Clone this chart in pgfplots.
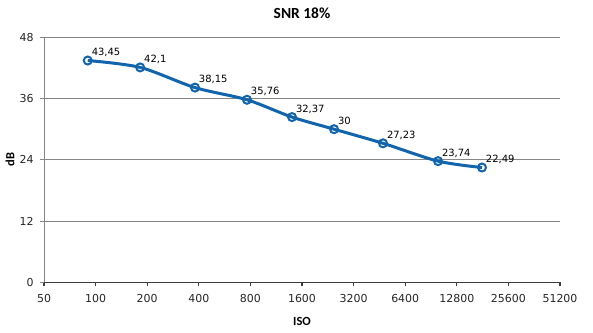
\documentclass[border=0pt]{standalone}
\usepackage{pgfplots}
\pgfplotsset{compat=1.18}
\usepackage{fontspec}
\setmainfont{DejaVu Sans}
\newfontfamily\lblfont{Carlito}
\definecolor{ser}{RGB}{18,100,172}
\definecolor{gridc}{RGB}{134,134,134}
\definecolor{axc}{RGB}{60,60,60}
\begin{document}
\begin{tikzpicture}
\useasboundingbox (-44bp,-50.7bp) rectangle (549bp,282.3bp);
\begin{axis}[
 at={(0,0)}, anchor=south west,
 scale only axis, width=516bp, height=245bp,
 xmode=log, log basis x=2, xmin=50, xmax=51200,
 ymin=0, ymax=48, ytick={0,12,24,36,48},
 xtick={50,100,200,400,800,1600,3200,6400,12800,25600,51200},
 xticklabels={50,100,200,400,800,1600,3200,6400,12800,25600,51200},
 xminorticks=false,
 ymajorgrids, grid style={gridc, line width=0.8bp},
 axis x line*=bottom, axis y line*=left,
 x axis line style={axc, line width=1.2bp},
 y axis line style={gridc, line width=0.8bp},
 tick align=outside, major tick length=4bp,
 xtick style={axc, line width=1.2bp},
 ytick style={gridc, line width=0.8bp},
 /pgf/number format/assume math mode=true,
 ticklabel style={font=\fontsize{11}{13}\selectfont, text=black!85},
 xticklabel style={yshift=-5bp},
 yticklabel style={xshift=-3bp},
 title={SNR 18\%},
 title style={font=\lblfont\fontsize{15.5}{17}\selectfont\bfseries, at={(0.5,1)}, anchor=center, yshift=18.5bp},
 xlabel={ISO},
 xlabel style={font=\lblfont\fontsize{12.5}{15}\selectfont\bfseries, at={(0.5,0)}, anchor=center, yshift=-39bp},
 ylabel={dB},
 ylabel style={font=\lblfont\fontsize{12.5}{15}\selectfont\bfseries, at={(0,0.5)}, anchor=center, yshift=34bp},
]
\addplot[ser, line width=3bp, smooth, tension=0.5,
  mark=o, mark size=4bp, mark options={fill=white, line width=2bp, solid},
  nodes near coords, point meta=explicit symbolic,
  nodes near coords style={font=\fontsize{10}{12}\selectfont, text=black, anchor=base west, inner sep=0pt, xshift=3bp, yshift=5bp}]
 table[meta=lab] {
x y lab
90 43.45 43,45
182 42.1 42,1
380 38.15 38,15
764 35.76 35,76
1399 32.37 32,37
2460 30 30
4750 27.23 27,23
9946 23.74 23,74
17950 22.49 22,49
};
\end{axis}
\end{tikzpicture}
\end{document}
